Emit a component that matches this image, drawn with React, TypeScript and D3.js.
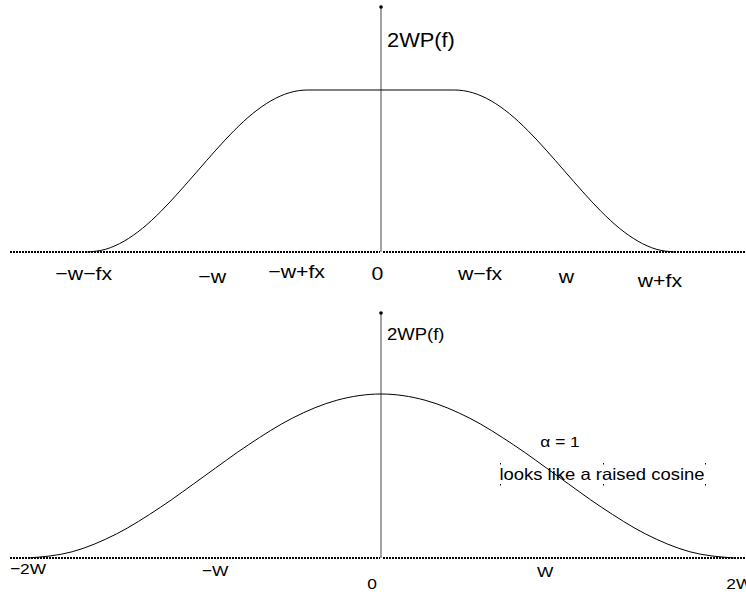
import React from "react";
import * as d3 from "d3";

// top panel: frequency in units of w (fx = 0.6 w), value = 2W P(f)
const topFreq = [
  -1.6, -1.5, -1.4, -1.3, -1.2, -1.1, -1.0, -0.9, -0.8, -0.7, -0.6, -0.5, -0.4,
  0, 0.4, 0.5, 0.6, 0.7, 0.8, 0.9, 1.0, 1.1, 1.2, 1.3, 1.4, 1.5, 1.6,
];
const topValues = [
  0, 0.017, 0.067, 0.146, 0.25, 0.371, 0.5, 0.629, 0.75, 0.854, 0.933, 0.983, 1,
  1, 1, 0.983, 0.933, 0.854, 0.75, 0.629, 0.5, 0.371, 0.25, 0.146, 0.067, 0.017, 0,
];
const topTickLabels = ["\u2212w\u2212fx", "\u2212w", "\u2212w+fx", "0", "w\u2212fx", "w", "w+fx"];
const topTickAt = [-1.62, -0.92, -0.46, -0.02, 0.54, 1.01, 1.52];

// bottom panel: alpha = 1, frequency in units of W
const bottomFreq = [
  -2, -1.75, -1.5, -1.25, -1, -0.75, -0.5, -0.25, 0, 0.25, 0.5, 0.75, 1, 1.25, 1.5, 1.75, 2,
];
const bottomValues = [
  0, 0.038, 0.146, 0.309, 0.5, 0.691, 0.854, 0.962, 1, 0.962, 0.854, 0.691, 0.5, 0.309, 0.146,
  0.038, 0,
];
const bottomTickLabels = ["\u22122W", "\u2212W", "0", "W", "2W"];
const bottomTickAt = [-2.0, -0.94, -0.05, 0.93, 2.03];

// layout
const W = 746;
const H = 594;
const CX = 381;
const STRETCH = 1.12;
const topTickDy = [28, 31, 26, 28, 28, 31, 35];
const bottomTickDy = [16, 18, 31, 19, 31];
const FONT = "'Liberation Sans', Arial, sans-serif";

const Label = ({ x, y, size, children, anchor = "middle" }: any) => (
  <g transform={`translate(${x},${y}) scale(${STRETCH},1)`}>
    <text fontSize={size} textAnchor={anchor} fontFamily={FONT} fill="#000">
      {children}
    </text>
  </g>
);

const Panel = ({ freq, values, x, y0, y1, axisTop, ticks, tickAt, tickDy, tickSize, yLabel, yLabelSize, yLabelY }: any) => {
  const line = d3
    .line<number>()
    .x((_, i) => x(freq[i]))
    .y((d) => (d === 0 ? y0 : y0 - (y0 - y1) * d))
    .curve(d3.curveMonotoneX);
  const cx = x(0);
  return (
    <g>
      <line x1={10} x2={cx - 1} y1={y0} y2={y0} stroke="#000" strokeWidth={2} strokeDasharray="2,1" />
      <line x1={cx + 2} x2={W} y1={y0} y2={y0} stroke="#000" strokeWidth={2} strokeDasharray="2,1" />
      <line x1={cx} x2={cx} y1={axisTop} y2={y0} stroke="#444" strokeWidth={1} />
      <circle cx={cx} cy={axisTop} r={1.8} fill="#000" />
      <path d={line(values) || ""} fill="none" stroke="#000" strokeWidth={1} />
      <Label x={cx + 6} y={yLabelY} size={yLabelSize} anchor="start">
        {yLabel}
      </Label>
      {ticks.map((t: string, i: number) => (
        <Label key={t} x={x(tickAt[i])} y={y0 + tickDy[i]} size={tickSize}>
          {t}
        </Label>
      ))}
    </g>
  );
};

export default function App() {
  const xTop = d3.scaleLinear().domain([-1, 1]).range([CX - 183.5, CX + 183.5]);
  const xBottom = d3.scaleLinear().domain([-2, 2]).range([CX - 353, CX + 353]);
  const handlesX = [500, 603, 705];
  const handlesY = [463, 484];
  return (
    <svg
      width={W}
      height={H}
      style={{ position: "absolute", left: 0, top: 0, background: "#fff" }}
    >
      <Panel
        freq={topFreq}
        values={topValues}
        x={xTop}
        y0={252}
        y1={90}
        axisTop={7}
        ticks={topTickLabels}
        tickAt={topTickAt}
        tickDy={topTickDy}
        tickSize={19}
        yLabel="2WP(f)"
        yLabelSize={19.5}
        yLabelY={47}
      />
      <Panel
        freq={bottomFreq}
        values={bottomValues}
        x={xBottom}
        y0={558}
        y1={394}
        axisTop={313}
        ticks={bottomTickLabels}
        tickAt={bottomTickAt}
        tickDy={bottomTickDy}
        tickSize={15.5}
        yLabel="2WP(f)"
        yLabelSize={16.5}
        yLabelY={340}
      />
      <Label x={560} y={447} size={15.5}>
        {"\u03b1 = 1"}
      </Label>
      <Label x={602} y={480} size={16.5}>
        looks like a raised cosine
      </Label>
      {handlesX.map((hx) =>
        handlesY.map((hy) => <rect key={`${hx}-${hy}`} x={hx} y={hy} width={1} height={1.5} fill="#000" />)
      )}
    </svg>
  );
}
